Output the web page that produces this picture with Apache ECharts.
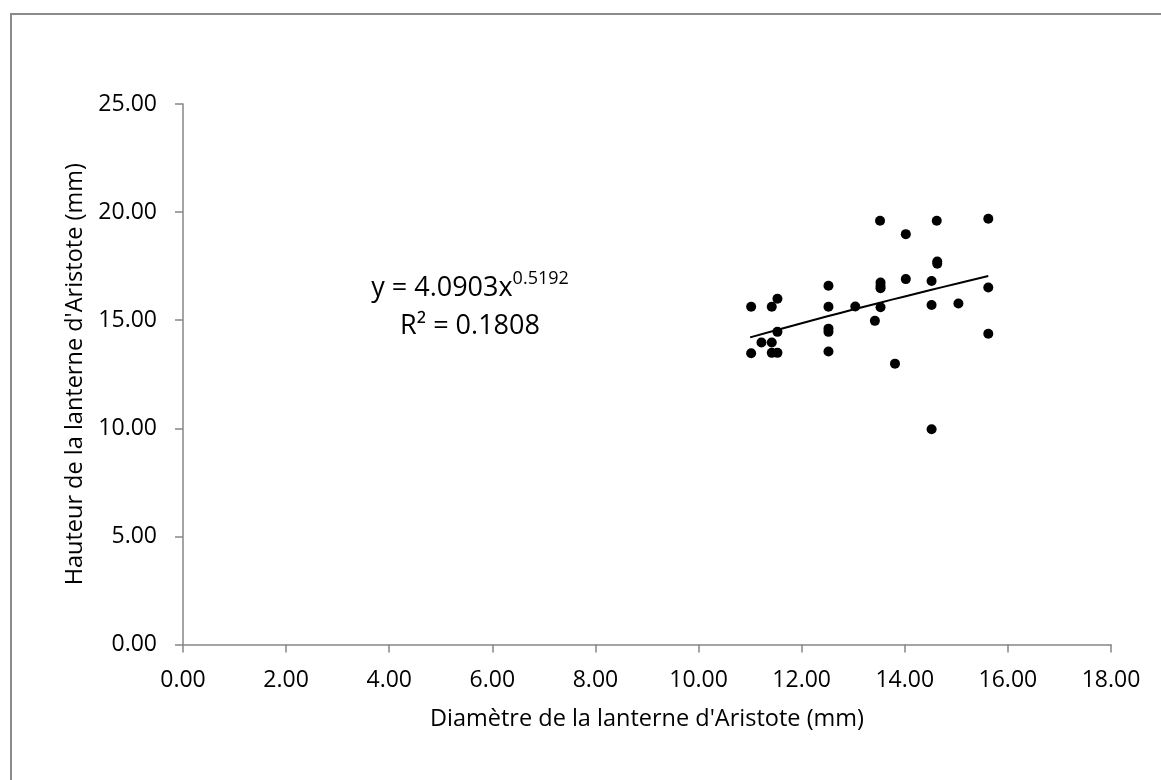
<!DOCTYPE html>
<html><head><meta charset="utf-8">
<script src="https://cdn.jsdelivr.net/npm/echarts@6/dist/echarts.min.js"></script>
<style>html,body{margin:0;padding:0;background:#fff}#c{width:1161px;height:780px}</style>
</head><body><div id="c"></div>
<script>
const xValues = [13.52,14.62,15.62,14.02,14.63,14.63,14.02,14.52,13.53,13.53,13.53,12.52,15.62,11.53,11.02,11.42,12.52,13.04,13.53,14.52,15.04,13.42,11.53,12.52,12.52,15.62,11.22,11.42,11.02,11.42,11.53,12.52,13.81,14.52];
const yValues = [19.6,19.6,19.69,18.98,17.71,17.61,16.9,16.81,16.74,16.59,16.48,16.59,16.51,15.99,15.62,15.62,15.62,15.63,15.6,15.7,15.77,14.97,14.46,14.61,14.46,14.37,13.97,13.97,13.47,13.49,13.49,13.55,12.99,9.96];
const xTicks = [0,2,4,6,8,10,12,14,16,18];
const fitA = 4.0903, fitB = 0.5192;
const fitXs = [11.0,11.5,12.0,12.5,13.0,13.5,14.0,14.5,15.0,15.62];
const points = xValues.map((x,i)=>[x,yValues[i]]);
const fitLine = fitXs.map(x=>[x, fitA*Math.pow(x,fitB)]);
const font = 'Open Sans';
const chart = echarts.init(document.getElementById('c'));
chart.setOption({
  animation:false,
  grid:{left:183,right:50,top:104,bottom:135.5},
  xAxis:{type:'value',min:0,max:18,interval:2,
    name:"Diamètre de la lanterne d'Aristote (mm)",nameLocation:'middle',nameGap:63,
    nameTextStyle:{fontFamily:font,fontSize:23.5,color:'#000'},
    axisLine:{lineStyle:{color:'#868686',width:1.5}},
    axisTick:{show:true,length:8,lineStyle:{color:'#868686',width:1.5}},
    axisLabel:{fontFamily:font,fontSize:23,color:'#000',margin:24,formatter:v=>v.toFixed(2)},
    splitLine:{show:false}},
  yAxis:{type:'value',min:0,max:25,interval:5,
    name:"Hauteur de la lanterne d'Aristote (mm)",nameLocation:'middle',nameGap:95,
    nameTextStyle:{fontFamily:font,fontSize:23.5,color:'#000'},
    axisLine:{show:true,lineStyle:{color:'#868686',width:1.5}},
    axisTick:{show:true,length:8,lineStyle:{color:'#868686',width:1.5}},
    axisLabel:{fontFamily:font,fontSize:23,color:'#000',margin:26,formatter:v=>v.toFixed(2)},
    splitLine:{show:false}},
  graphic:[
    {type:'rect',shape:{x:11,y:14,width:1200,height:800},style:{fill:'none',stroke:'#8a8a8a',lineWidth:2},silent:true,z:-1},
    {type:'text',x:470,y:288,style:{align:'center',verticalAlign:'middle',rich:{a:{fontFamily:font,fontSize:27,color:'#000'},s:{fontFamily:font,fontSize:18,color:'#000',verticalAlign:'top',padding:[0,0,18,0]}},text:'{a|y = 4.0903x}{s|0.5192}'}},
    {type:'text',x:470,y:326,style:{align:'center',verticalAlign:'middle',text:'R² = 0.1808',fontFamily:font,fontSize:27,fill:'#000'}}
  ],
  series:[
    {type:'line',data:fitLine,showSymbol:false,smooth:true,lineStyle:{color:'#000',width:2},z:2},
    {type:'scatter',data:points,symbol:'circle',symbolSize:10,itemStyle:{color:'#000',opacity:1},z:3}
  ]
});
</script></body></html>
